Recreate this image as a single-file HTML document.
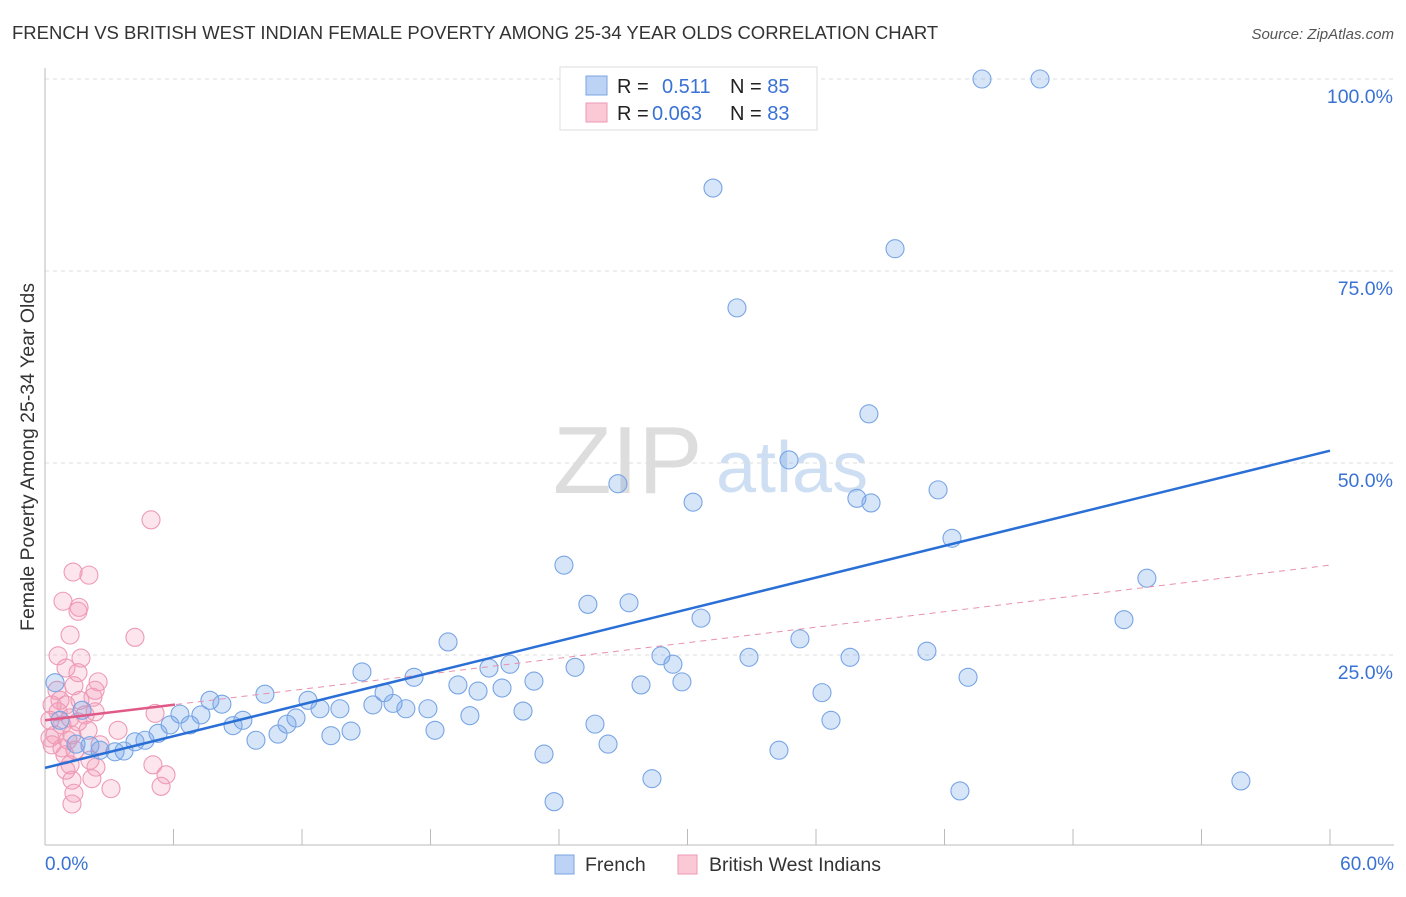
<!DOCTYPE html>
<html><head><meta charset="utf-8"><style>
body{margin:0;background:#fff;font-family:"Liberation Sans",sans-serif;}
svg text{font-family:"Liberation Sans",sans-serif;}
</style></head><body>
<svg id="chart" width="1406" height="892" xmlns="http://www.w3.org/2000/svg">
<text x="12" y="39" font-size="18.5" fill="#333">FRENCH VS BRITISH WEST INDIAN FEMALE POVERTY AMONG 25-34 YEAR OLDS CORRELATION CHART</text>
<text x="1394" y="39" font-size="15" fill="#555" text-anchor="end" font-style="italic">Source: ZipAtlas.com</text>
<g>
<text x="553" y="493" font-size="96" fill="#ddd" font-family="Liberation Serif">ZIP</text>
<text x="716" y="492" font-size="72" fill="#cfdff3">atlas</text>
</g>
<g id="grid"></g>
<g id="axes"></g>
<g id="marks"></g>
<g>
<rect x="560" y="67" width="257" height="63" fill="#fff" stroke="#ddd"/>
<rect x="586" y="76" width="21" height="19" fill="#bcd3f5" stroke="#7aa5e0"/>
<rect x="586" y="103" width="21" height="19" fill="#fbc8d6" stroke="#ee98b2"/>
<text x="617" y="93" font-size="20" fill="#222">R = <tspan x="662" fill="#3a72d4">0.511</tspan><tspan x="730" fill="#222">N = </tspan><tspan fill="#3a72d4">85</tspan></text>
<text x="617" y="120" font-size="20" fill="#222">R = <tspan x="652" fill="#3a72d4">0.063</tspan><tspan x="730" fill="#222">N = </tspan><tspan fill="#3a72d4">83</tspan></text>
</g>
<g>
<rect x="555" y="855" width="19" height="19" fill="#bcd3f5" stroke="#7aa5e0"/>
<text x="585" y="871" font-size="19.5" fill="#333">French</text>
<rect x="678" y="855" width="19" height="19" fill="#fbc8d6" stroke="#ee98b2"/>
<text x="709" y="871" font-size="19.5" fill="#333">British West Indians</text>
</g>
<text transform="translate(34,457) rotate(-90)" font-size="19.5" fill="#333" text-anchor="middle">Female Poverty Among 25-34 Year Olds</text>
</svg>
<script>
const yTicks=[25,50,75,100];
const yTickLabels=["25.0%","50.0%","75.0%","100.0%"];
const xTickLabels=["0.0%","60.0%"];
const frenchX=[43.75,46.46,31.19,39.69,32.31,38.47,34.74,26.75,30.26,37.91,38.57,41.70,42.35,24.23,51.45,25.35,27.27,50.38,30.63,18.82,35.25,28.76,32.87,37.59,41.18,29.32,24.75,20.73,21.71,43.10,14.80,17.23,22.83,27.83,29.74,19.28,20.22,21.34,15.83,36.28,10.27,7.70,8.26,12.28,15.31,16.25,16.85,17.88,12.84,13.77,22.32,19.84,6.30,7.28,11.72,9.24,8.78,11.30,25.68,36.70,5.84,6.77,18.21,14.29,13.35,10.88,9.85,5.28,4.67,4.20,26.29,34.27,23.30,3.69,3.27,2.57,2.10,1.45,0.70,0.47,28.34,55.84,42.72,23.77,1.73];
const frenchY=[100,100,85.8,77.9,70.2,56.4,50.4,47.3,44.9,45.4,44.8,46.5,40.2,36.7,35.0,31.6,31.8,29.6,29.8,26.7,27.1,24.9,24.7,24.7,25.5,23.8,23.4,23.3,23.8,22.1,22.8,22.1,21.6,21.1,21.5,21.1,20.3,20.7,20.1,20.1,19.9,19.1,18.6,19.1,18.5,18.7,18.0,18.0,18.0,18.0,17.7,17.1,17.3,17.2,16.8,16.5,15.8,16.0,16.0,16.5,15.9,15.9,15.2,15.1,14.5,14.7,13.9,14.8,13.9,13.7,13.4,12.6,12.1,12.5,12.4,12.6,13.2,13.4,16.5,21.4,8.9,8.6,7.3,5.9,17.8];
const bwiX=[4.95,1.31,2.05,0.84,1.59,1.54,4.20,1.17,0.61,1.68,0.98,1.54,1.35,2.48,2.34,2.24,3.41,5.14,5.04,5.65,5.42,3.08,1.26,1.35,1.26,2.19,0.98,1.17,2.38,0.33,0.61,0.23,0.79,0.47,1.07,0.33,0.70,1.17,1.54,1.87,2.01,0.93,1.40,2.10,2.57,0.56,0.98,1.63,2.34,0.23,0.79,1.26];
const bwiY=[42.6,35.8,35.4,32.0,31.2,30.7,27.3,27.6,24.9,24.6,23.3,22.7,21.0,21.5,20.4,19.5,15.2,17.4,10.7,9.4,7.9,7.6,5.6,7.0,8.7,8.9,10.0,10.7,10.4,18.5,17.6,16.5,15.9,14.6,13.9,13.3,19.1,16.8,16.3,17.2,15.2,12.0,12.6,11.3,13.3,20.4,18.5,19.1,17.6,14.2,12.9,14.6];
const frenchTrend=[10.3,51.6];
const bwiTrend=[16.5,36.7];
const NS="http://www.w3.org/2000/svg";
const sx=v=>45+v/60*1285, sy=v=>847-v/100*768;
function mk(tag,attrs,parent){const e=document.createElementNS(NS,tag);for(const k in attrs)e.setAttribute(k,attrs[k]);document.getElementById(parent).appendChild(e);return e;}
yTicks.forEach((t,i)=>{
 const g=mk('line',{x1:45,x2:1394,y1:sy(t),y2:sy(t),stroke:'#ddd','stroke-dasharray':'4,4'},'grid');
 
 
 const l=mk('text',{x:1393,y:sy(t)+24,'font-size':19.5,fill:'#3a72d4','text-anchor':'end'},'axes');
 l.textContent=yTickLabels[i];
 
 
});
const ya=mk('line',{x1:45,x2:45,y1:68,y2:845,stroke:'#bbb'},'axes');


const xa=mk('line',{x1:45,x2:1394,y1:845,y2:845,stroke:'#bbb'},'axes');


for(let i=1;i<=10;i++){const t=mk('line',{x1:sx(i*6),x2:sx(i*6),y1:829,y2:845,stroke:'#bbb'},'axes');
 
 }
[[0,45,'start'],[60,1394,'end']].forEach((d,i)=>{const t=mk('text',{x:d[1],y:870,'font-size':19,fill:'#3a72d4','text-anchor':d[2]},'axes');t.textContent=xTickLabels[i];
 
 });
bwiX.forEach((x,i)=>{const c=mk('circle',{cx:sx(x),cy:sy(bwiY[i]),r:9,fill:'rgba(244,150,180,0.25)',stroke:'#ee9ab6','stroke-width':1.1},'marks');
 
 });
frenchX.forEach((x,i)=>{const c=mk('circle',{cx:sx(x),cy:sy(frenchY[i]),r:9,fill:'rgba(110,160,235,0.28)',stroke:'#78a5e4','stroke-width':1.1},'marks');
 
 });
const bd=mk('line',{x1:sx(0),y1:sy(bwiTrend[0]),x2:sx(60),y2:sy(bwiTrend[1]),stroke:'#e890ac','stroke-width':1,'stroke-dasharray':'6,5'},'marks');


const b6=bwiTrend[0]+(bwiTrend[1]-bwiTrend[0])*6.07/60;
const bs=mk('line',{x1:sx(0),y1:sy(bwiTrend[0]),x2:sx(6.07),y2:sy(b6),stroke:'#e05a88','stroke-width':2.5},'marks');


const ft=mk('line',{x1:sx(0),y1:sy(frenchTrend[0]),x2:sx(60),y2:sy(frenchTrend[1]),stroke:'#2a6fd6','stroke-width':2.5},'marks');


</script>
</body></html>
